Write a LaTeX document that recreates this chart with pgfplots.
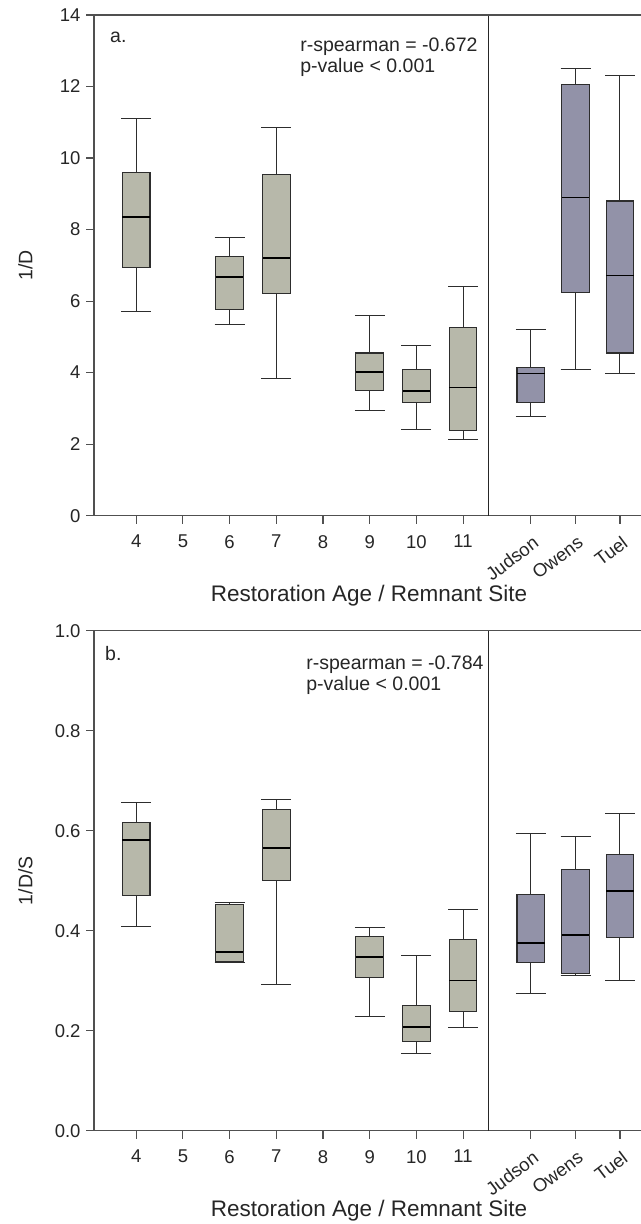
\documentclass[border=0pt]{standalone}
\usepackage{pgfplots}
\pgfplotsset{compat=1.18}
\usepgfplotslibrary{statistics}
\usepackage{fontspec}
\setmainfont{Liberation Sans}
\definecolor{boxgray}{RGB}{183,184,170}
\definecolor{boxpurple}{RGB}{146,146,168}
\definecolor{boxedge}{RGB}{45,45,45}
\definecolor{axcol}{RGB}{80,80,80}
\newcommand{\bx}[7]{\addplot[boxplot prepared={draw position=#1, lower whisker=#2, lower quartile=#3, median=#4, upper quartile=#5, upper whisker=#6, box extend=0.59, whisker extend=0.64}, fill=#7, draw=boxedge, line width=1.1bp] coordinates {};}
\pgfplotsset{
  myax/.style={
    scale only axis, width=547bp,
    xmin=3.096, xmax=14.81,
    axis x line*=bottom, axis y line*=left,
    tick pos=left,
    axis line style={draw=axcol, line width=1.4bp},
    tick align=outside, major tick length=8bp,
    tick style={draw=axcol, line width=1.1bp},
    xtick={4,5,6,7,8,9,10,11},
    xticklabels={4,5,6,7,8,9,10,11},
    extra x ticks={12.45,13.41,14.36},
    extra x tick labels={Judson,Owens,Tuel},
    extra x tick style={xticklabel style={rotate=37, anchor=north east, yshift=-1bp, xshift=1bp, inner sep=2bp}},
    tick label style={font=\fontsize{18.5bp}{22bp}\selectfont, text=black!85},
    xticklabel style={yshift=-8bp},
    yticklabel style={xshift=-2bp},
    clip=false,
    boxplot/draw direction=y,
    boxplot/every median/.style={draw=black, line width=1.4bp},
    boxplot/every whisker/.style={draw=boxedge, line width=1.0bp},
    label style={font=\fontsize{22.5bp}{26bp}\selectfont, text=black!85},
    xlabel={Restoration Age / Remnant Site},
    xlabel style={at={(axis description cs:0.5027,-0.172)}, anchor=base},
  }
}
\begin{document}
\begin{tikzpicture}[x=1bp,y=1bp]
\useasboundingbox (0,0) rectangle (641,1224);
% Panel a
\begin{axis}[myax, at={(94bp,708.3bp)}, anchor=south west, height=500.7bp,
  ymin=0, ymax=14, ytick={0,2,4,6,8,10,12,14}, yticklabels={0,2,4,6,8,10,12,14},
  ylabel={1/D}, ylabel style={at={(axis description cs:-0.1253,0.5)}, anchor=center, font=\fontsize{19.5bp}{22bp}\selectfont}]
\bx{4}{5.71}{6.95}{8.35}{9.60}{11.10}{boxgray}
\bx{6}{5.35}{5.77}{6.67}{7.25}{7.78}{boxgray}
\bx{7}{3.84}{6.20}{7.21}{9.54}{10.84}{boxgray}
\bx{9}{2.93}{3.51}{4.02}{4.55}{5.61}{boxgray}
\bx{10}{2.40}{3.17}{3.49}{4.09}{4.75}{boxgray}
\bx{11}{2.12}{2.39}{3.59}{5.27}{6.42}{boxgray}
\bx{12.45}{2.76}{3.16}{3.98}{4.15}{5.21}{boxpurple}
\bx{13.41}{4.09}{6.25}{8.90}{12.06}{12.49}{boxpurple}
\bx{14.36}{3.98}{4.55}{6.71}{8.80}{12.31}{boxpurple}
\addplot[draw=black!85, line width=1.1bp] coordinates {(11.536,0) (11.536,14)};
\draw[axcol, line width=1.4bp] (rel axis cs:0,1) -- (rel axis cs:1,1);
\node[anchor=base west, inner sep=0pt, font=\fontsize{19.5bp}{21bp}\selectfont, text=black!85] at (axis description cs:0.0293,0.945) {a.};
\node[anchor=base west, inner sep=0pt, align=left, font=\fontsize{19.5bp}{21bp}\selectfont, text=black!85] at (axis description cs:0.3768,0.8848) {r-spearman = -0.672\\p-value < 0.001};
\end{axis}
% Panel b
\begin{axis}[myax, at={(94bp,93.3bp)}, anchor=south west, height=500bp,
  ymin=0, ymax=1, ytick={0,0.2,0.4,0.6,0.8,1.0}, yticklabels={0.0,0.2,0.4,0.6,0.8,1.0},
  ylabel={1/D/S}, ylabel style={at={(axis description cs:-0.1253,0.5)}, anchor=center, font=\fontsize{19.5bp}{22bp}\selectfont}]
\bx{4}{0.408}{0.471}{0.581}{0.616}{0.656}{boxgray}
\bx{6}{0.336}{0.339}{0.357}{0.453}{0.457}{boxgray}
\bx{7}{0.293}{0.500}{0.565}{0.642}{0.663}{boxgray}
\bx{9}{0.229}{0.307}{0.347}{0.389}{0.407}{boxgray}
\bx{10}{0.155}{0.178}{0.207}{0.250}{0.351}{boxgray}
\bx{11}{0.207}{0.239}{0.300}{0.382}{0.443}{boxgray}
\bx{12.45}{0.275}{0.337}{0.375}{0.473}{0.594}{boxpurple}
\bx{13.41}{0.310}{0.315}{0.391}{0.522}{0.589}{boxpurple}
\bx{14.36}{0.300}{0.387}{0.479}{0.553}{0.634}{boxpurple}
\addplot[draw=black!85, line width=1.1bp] coordinates {(11.536,0) (11.536,1)};
\draw[axcol, line width=1.4bp] (rel axis cs:0,1) -- (rel axis cs:1,1);
\node[anchor=base west, inner sep=0pt, font=\fontsize{19.5bp}{21bp}\selectfont, text=black!85] at (axis description cs:0.0201,0.94) {b.};
\node[anchor=base west, inner sep=0pt, align=left, font=\fontsize{19.5bp}{21bp}\selectfont, text=black!85] at (axis description cs:0.3878,0.88) {r-spearman = -0.784\\p-value < 0.001};
\end{axis}
\end{tikzpicture}
\end{document}
